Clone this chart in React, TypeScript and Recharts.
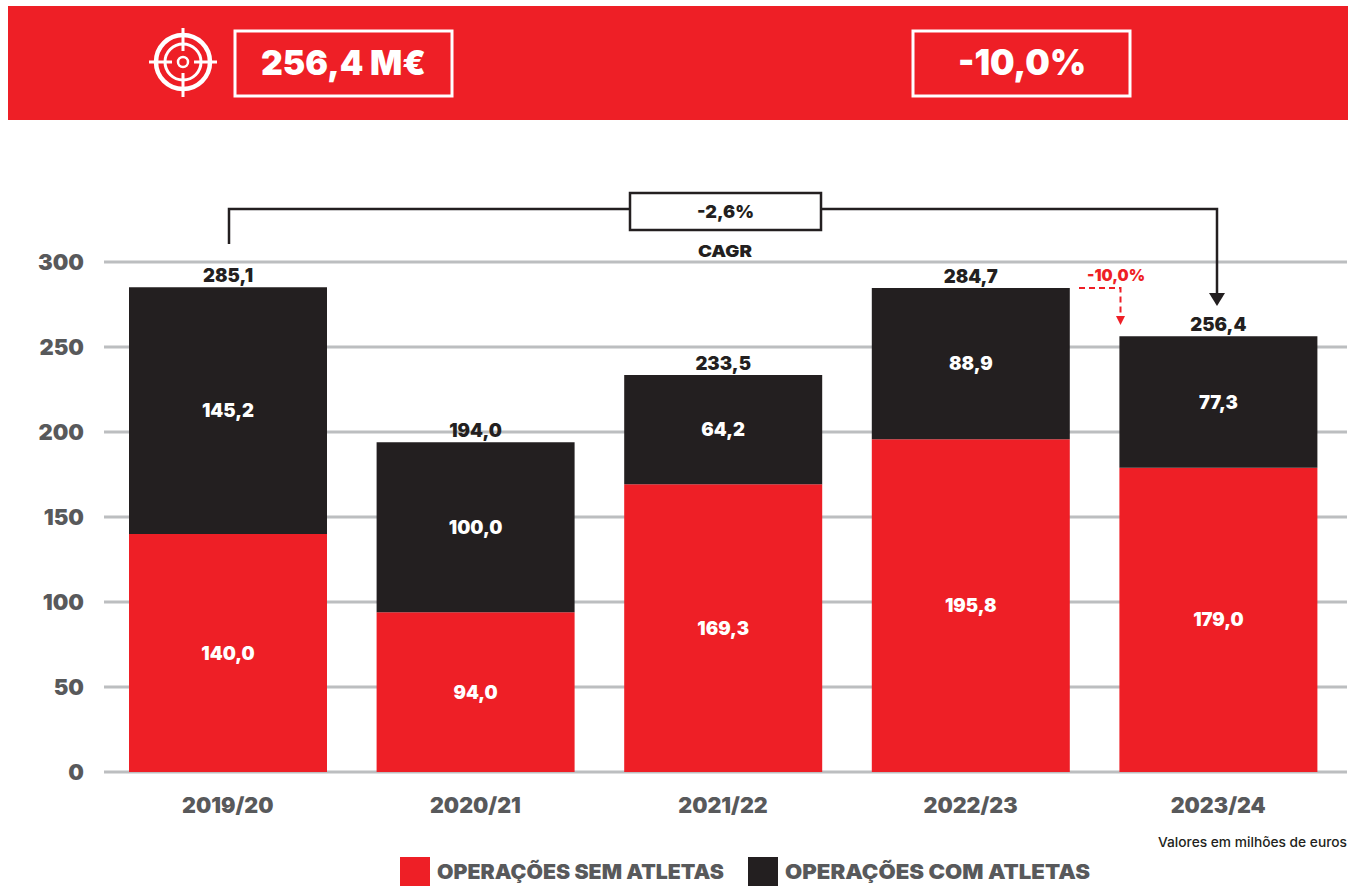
import React from "react";
import { BarChart, Bar, XAxis, YAxis, CartesianGrid, LabelList, Legend } from "recharts";

const seasons = ["2019/20", "2020/21", "2021/22", "2022/23", "2023/24"];
const semAtletas = [140.0, 94.0, 169.3, 195.8, 179.0];
const comAtletas = [145.2, 100.0, 64.2, 88.9, 77.3];
const totals = [285.1, 194.0, 233.5, 284.7, 256.4];
const yTicks = [0, 50, 100, 150, 200, 250, 300];

const RED = "#ee1f26";
const DARK = "#231f20";
const GREY = "#58595b";
const FONT = "Inter, sans-serif";

const rows = seasons.map((season, i) => ({
  season,
  sem: semAtletas[i],
  com: comAtletas[i],
  total: totals[i],
}));

const pt = (v: any) => Number(v).toFixed(1).replace(".", ",");

function LegendContent({ payload }: any) {
  const xs = [400, 748];
  const widths = [287, 305];
  return (
    <div style={{ position: "relative", width: 1356, height: 36 }}>
      {(payload || []).map((p: any, i: number) => (
        <div key={p.value} style={{ position: "absolute", left: xs[i], top: 7, height: 29, display: "flex", alignItems: "center" }}>
          <span style={{ width: 30, height: 29, background: p.color, display: "inline-block", marginRight: 7 }} />
          <svg width={widths[i] + 4} height={29} style={{ display: "block" }}>
            <text x={0} y={22} textLength={widths[i]} lengthAdjust="spacingAndGlyphs" fontFamily={FONT} fontWeight={900} fontSize={20.5} fill={GREY}>{p.value}</text>
          </svg>
        </div>
      ))}
    </div>
  );
}

function Overlay() {
  return (
    <svg width={1356} height={886} style={{ position: "absolute", left: 0, top: 0, pointerEvents: "none" }} fontFamily={FONT}>
      <rect x={8} y={6} width={1340} height={114} fill={RED} />
      <g fill="none" stroke="#fff">
        <circle cx={183} cy={62} r={27} strokeWidth={4.5} />
        <circle cx={183} cy={62} r={18} strokeWidth={3} />
        <circle cx={183} cy={62} r={5} strokeWidth={2.5} />
        <path d="M183 28V51M183 73V97M149 62H172M194 62H217" strokeWidth={3} />
        <rect x={235} y={31} width={217} height={65} strokeWidth={3} />
        <rect x={913} y={31} width={217} height={65} strokeWidth={3} />
      </g>
      <text x={343.5} y={75} textAnchor="middle" fill="#fff" fontSize={34.5} fontWeight={900} textLength={165} lengthAdjust="spacingAndGlyphs">256,4 M€</text>
      <text x={1022} y={75} textAnchor="middle" fill="#fff" fontSize={35} fontWeight={900} textLength={128} lengthAdjust="spacingAndGlyphs">-10,0%</text>

      <path d="M229 244V209H629M821 209H1217V295" fill="none" stroke={DARK} strokeWidth={2.5} />
      <path d="M1209 293H1225L1217 306Z" fill={DARK} />
      <rect x={630} y={193} width={191} height={37} fill="#fff" stroke={DARK} strokeWidth={2.5} />
      <text x={725.5} y={218} textAnchor="middle" fill={DARK} fontSize={18} fontWeight={900}>-2,6%</text>
      <text x={725} y={257} textAnchor="middle" fill={DARK} fontSize={16.5} fontWeight={900} textLength={54} lengthAdjust="spacingAndGlyphs">CAGR</text>

      <text x={1116} y={281} textAnchor="middle" fill={RED} fontSize={16} fontWeight={900} textLength={58} lengthAdjust="spacingAndGlyphs">-10,0%</text>
      <path d="M1079 288H1120.5V316" fill="none" stroke={RED} strokeWidth={2} strokeDasharray="6 4" />
      <path d="M1116 316H1125L1120.5 325Z" fill={RED} />

      <text x={1347} y={847} textAnchor="end" fill={DARK} fontSize={13.5} fontWeight={500} textLength={189} lengthAdjust="spacingAndGlyphs">Valores em milhões de euros</text>
    </svg>
  );
}

export default function App() {
  return (
    <div style={{ position: "absolute", left: 0, top: 0, width: 1356, height: 886, background: "#fff" }}>
      <BarChart
        width={1356}
        height={886}
        data={rows}
        margin={{ top: 262, right: 9, bottom: 0, left: 0 }}
        barSize={198}
      >
        <CartesianGrid horizontal vertical={false} stroke="#bcbec0" strokeWidth={3} />
        <XAxis
          dataKey="season"
          height={114}
          padding={{ left: 0, right: 5 }}
          axisLine={false}
          tickLine={false}
          tickMargin={20}
          tick={{ fontFamily: FONT, fontWeight: 900, fontSize: 21.5, fill: GREY }}
        />
        <YAxis
          width={104}
          domain={[0, 300]}
          ticks={yTicks}
          axisLine={false}
          tickLine={false}
          tickMargin={14}
          tick={{ fontFamily: FONT, fontWeight: 900, fontSize: 22, fill: GREY }}
        />
        <Legend
          verticalAlign="middle"
          itemSorter={null}
          content={<LegendContent />}
          wrapperStyle={{ left: 0, top: 850, width: 1356, height: 36 }}
        />
        <Bar dataKey="sem" name="OPERAÇÕES SEM ATLETAS" stackId="a" fill={RED} isAnimationActive={false}>
          <LabelList dataKey="sem" position="center" formatter={pt} fill="#fff" fontFamily={FONT} fontWeight={900} fontSize={18.5} />
        </Bar>
        <Bar dataKey="com" name="OPERAÇÕES COM ATLETAS" stackId="a" fill={DARK} isAnimationActive={false}>
          <LabelList dataKey="com" position="center" formatter={pt} fill="#fff" fontFamily={FONT} fontWeight={900} fontSize={18.5} />
          <LabelList dataKey="total" position="top" offset={5} formatter={pt} fill={DARK} fontFamily={FONT} fontWeight={900} fontSize={18.5} />
        </Bar>
      </BarChart>
      <Overlay />
    </div>
  );
}
